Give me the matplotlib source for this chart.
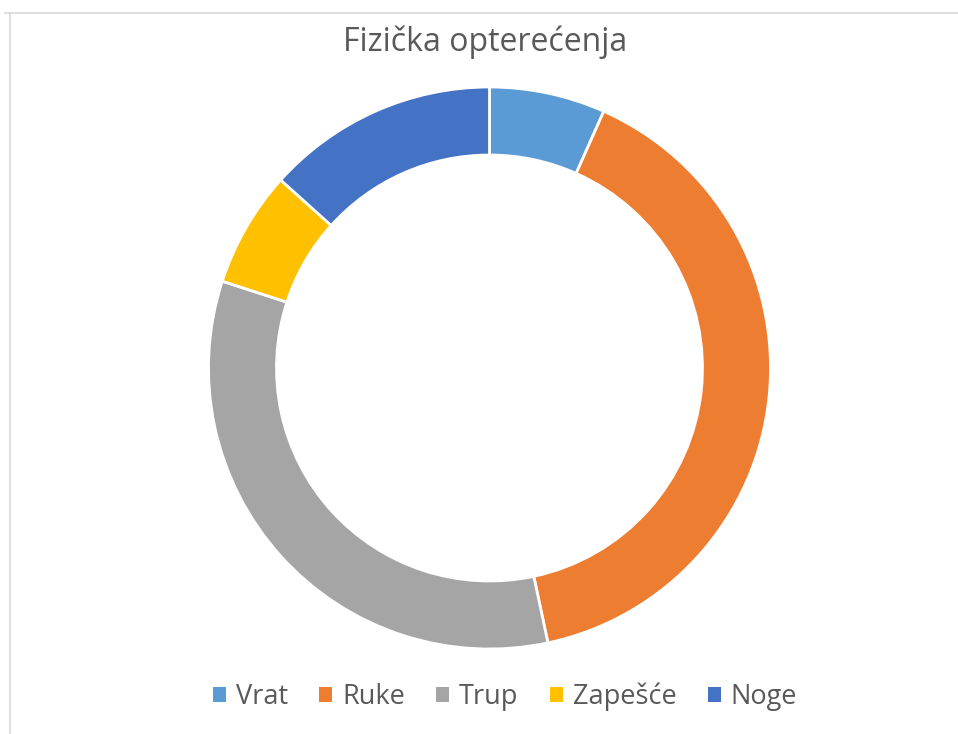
import matplotlib.pyplot as plt
from matplotlib.lines import Line2D

labels = ["Vrat", "Ruke", "Trup", "Zapešće", "Noge"]
values = [1, 6, 5, 1, 2]
colors = ["#5B9BD5", "#ED7D31", "#A5A5A5", "#FFC000", "#4472C4"]
title = "Fizička opterećenja"

plt.rcParams["font.family"] = ["Open Sans", "DejaVu Sans"]

W, H = 958, 734
fig = plt.figure(figsize=(W / 100, H / 100), dpi=100)

# donut position in pixels
cx, cy, R = 489.5, 368, 281
ax = fig.add_axes([(cx - R) / W, (H - cy - R) / H, 2 * R / W, 2 * R / H])
wedges, _ = ax.pie(values, colors=colors, startangle=90, counterclock=False,
                   radius=1, wedgeprops=dict(width=0.242, edgecolor="white", linewidth=2))
ax.set_xlim(-1, 1)
ax.set_ylim(-1, 1)
ax.set_aspect("equal")
ax.axis("off")

fig.text(485 / W, 1 - 42 / H, title, ha="center", va="center", fontsize=23, color="#595959")

fig.legend(wedges, labels, loc="center", bbox_to_anchor=(505 / W, 1 - 697 / H), ncol=5,
           frameon=False, fontsize=19.5, labelcolor="#595959", handlelength=0.48,
           handleheight=0.48, handletextpad=0.37, columnspacing=1.15)
for h in fig.legends[0].legend_handles:
    h.set_edgecolor("none")

# chart frame (partly cropped)
fig.add_artist(Line2D([5 / W, 1], [1 - 13 / H] * 2, color="#d9d9d9", lw=1.2))
fig.add_artist(Line2D([10 / W] * 2, [0, 1 - 13 / H], color="#d9d9d9", lw=1.2))

fig.savefig("out.png", dpi=100)
